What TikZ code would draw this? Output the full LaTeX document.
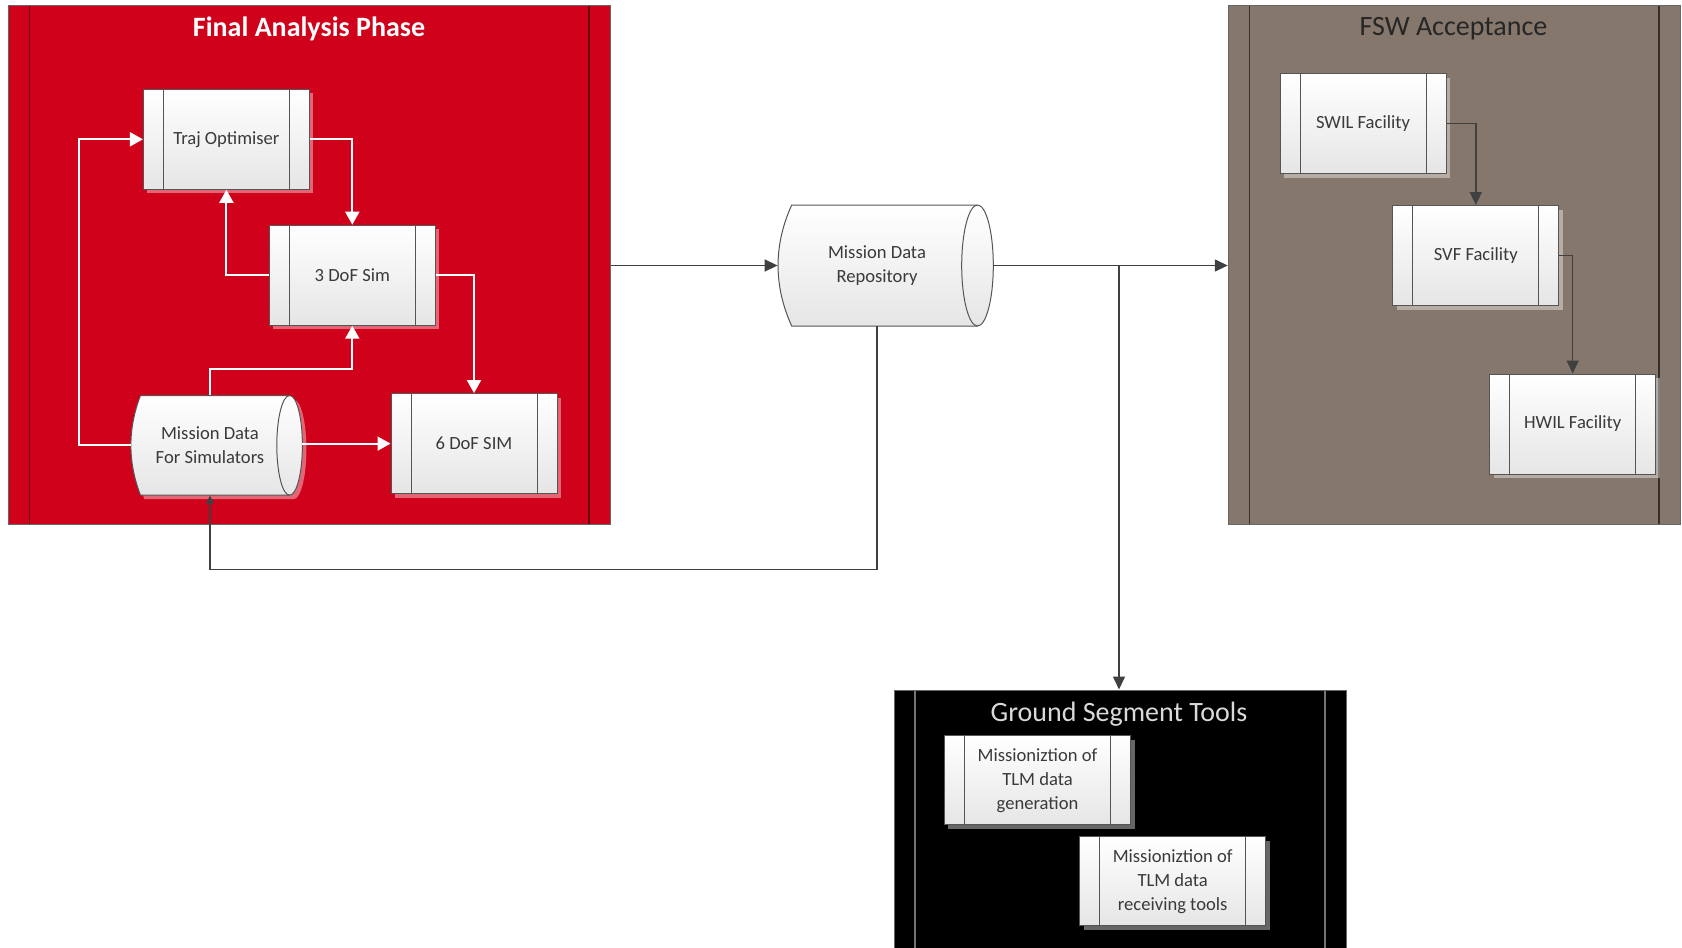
\documentclass[tikz,border=0pt]{standalone}
\usepackage{fontspec}
\setmainfont{Carlito}
\usetikzlibrary{arrows.meta,shadows,calc}

\definecolor{fapred}{RGB}{208,2,27}
\definecolor{fswbrown}{RGB}{133,119,108}
\definecolor{linegray}{RGB}{64,64,64}
\definecolor{boxedge}{RGB}{85,85,85}
\definecolor{boxtext}{RGB}{58,58,58}

\newcommand\boxfont{\fontsize{9.3}{12}\selectfont}
\newcommand\lanefont{\fontsize{14}{17}\selectfont}

\tikzset{
  % swimlane container with two inner rails
  lane/.style 2 args={draw=black!60, line width=.5pt, fill=#1, inner sep=0pt,
    path picture={
      \draw[#2, line width=.7pt]
        ([xshift=10.5pt]path picture bounding box.north west) --
        ([xshift=10.5pt]path picture bounding box.south west);
      \draw[#2, line width=.7pt]
        ([xshift=-10.5pt]path picture bounding box.north east) --
        ([xshift=-10.5pt]path picture bounding box.south east);
    }},
  boxshade/.style={top color=white, bottom color=black!10, shading angle=0},
  softshadow/.style={drop shadow={shadow xshift=2pt, shadow yshift=-2pt,
    fill=white, opacity=.4}},
  % predefined-process box
  proc/.style={draw=boxedge, line width=.5pt, boxshade, softshadow,
    minimum width=83pt, minimum height=50pt, inner sep=0pt,
    font=\boxfont, text=boxtext, align=center,
    path picture={
      \draw[boxedge, line width=.5pt]
        ([xshift=10pt]path picture bounding box.north west) --
        ([xshift=10pt]path picture bounding box.south west);
      \draw[boxedge, line width=.5pt]
        ([xshift=-10pt]path picture bounding box.north east) --
        ([xshift=-10pt]path picture bounding box.south east);
    }},
  gproc/.style={proc, minimum width=93.2pt, minimum height=44.6pt},
  storetext/.style={inner sep=0pt, font=\boxfont, text=boxtext, align=center},
  store/.style={draw=boxedge, line width=.5pt, boxshade},
  wire/.style={draw=linegray, line width=.75pt,
    -{Triangle[length=6.5pt,width=6pt]}},
  wwire/.style={draw=white, line width=1pt,
    -{Triangle[length=6.5pt,width=7pt]}},
}

\begin{document}
\begin{tikzpicture}[x=0.5pt, y=-0.5pt]
  \clip (0,0) rectangle (1682,948);
  \fill[white] (0,0) rectangle (1682,948);

  % ---- containers ----
  \node[lane={fapred}{black!50!fapred}, minimum width=300.7pt, minimum height=259.5pt]
    (fap) at (309.3,265) {};
  \node[lane={fswbrown}{black!60!fswbrown}, minimum width=225.9pt, minimum height=259.5pt]
    (fsw) at (1454.2,265) {};
  \node[lane={black}{black!55}, minimum width=226pt, minimum height=150pt]
    (gst) at (1120,840) {};

  \node[font=\lanefont\bfseries, text=white] (faptitle) at (309,29) {Final Analysis Phase};
  \node[font=\lanefont, text=black!85] (fswtitle) at (1453.5,29) {FSW Acceptance};
  \node[font=\lanefont, text=black!15] (gsttitle) at (1119,714) {Ground Segment Tools};

  % ---- Final Analysis Phase ----
  \node[proc] (traj) at (226.4,139.3) {Traj Optimiser};
  \node[proc] (dof3) at (352.3,275.2) {3 DoF Sim};
  \node[proc] (dof6) at (474,443.6) {6 DoF SIM};

  % stored-data cylinder: mission data for simulators
  \path[store, softshadow] (140.5,395.5) -- (289.6,395.5)
    .. controls (296.7,395.5) and (302.4,417.8) .. (302.4,445.35)
    .. controls (302.4,472.9) and (296.7,495.2) .. (289.6,495.2)
    -- (140.5,495.2)
    .. controls (127.7,462) and (127.7,428.7) .. (140.5,395.5) -- cycle;
  \draw[boxedge, line width=.5pt] (289.6,395.5)
    .. controls (282.5,395.5) and (276.8,417.8) .. (276.8,445.35)
    .. controls (276.8,472.9) and (282.5,495.2) .. (289.6,495.2);
  \node[storetext, minimum width=79.1pt, minimum height=49.85pt] (msim) at (210,445.35)
    {Mission Data\\For Simulators};
  \coordinate (msimout) at (302.4,443.6);

  % ---- Mission data repository ----
  \path[store, softshadow] (791.7,205) -- (977.5,205)
    .. controls (986.2,205) and (993.3,232.1) .. (993.3,265.5)
    .. controls (993.3,298.9) and (986.2,326) .. (977.5,326)
    -- (791.7,326)
    .. controls (773.5,286) and (773.5,245) .. (791.7,205) -- cycle;
  \draw[boxedge, line width=.5pt] (977.5,205)
    .. controls (968.8,205) and (961.7,232.1) .. (961.7,265.5)
    .. controls (961.7,298.9) and (968.8,326) .. (977.5,326);
  \node[storetext, minimum width=99pt, minimum height=60.5pt] (repo) at (877,265.5)
    {Mission Data\\Repository};
  \coordinate (repoout) at (993.3,265.5);
  \coordinate (branch) at (1119,265.5);
  \coordinate (loopcorner) at (877,569.5);

  % ---- FSW Acceptance ----
  \node[proc] (swil) at (1363,123.5) {SWIL Facility};
  \node[proc] (svf) at (1475.8,255.5) {SVF Facility};
  \node[proc] (hwil) at (1572.7,424) {HWIL Facility};

  % ---- Ground Segment Tools ----
  \node[gproc] (tlmgen) at (1037.5,780.3) {Missioniztion of\\TLM data\\generation};
  \node[gproc] (tlmrx) at (1172.7,881.3) {Missioniztion of\\TLM data\\receiving tools};

  % ---- white flows inside the analysis phase ----
  \draw[wwire] (traj.east) -| (dof3.north);
  \draw[wwire] (dof3.west) -| (traj.south);
  \draw[wwire] (dof3.east) -| (dof6.north);
  \draw[wwire] (msim.north) -- ++(0,-25.8) -| (dof3.south);
  \draw[wwire] (msim.west) -- ++(-51.3,0) |- (traj.west);
  \draw[wwire] (msimout) -- (msimout -| dof6.west);

  % ---- dark flows between lanes ----
  \draw[wire] (repo.west -| fap.east) -- (repo.west);
  \draw[wire] (repoout) -- (repoout -| fsw.west);
  \draw[wire] (branch) -- (branch |- gst.north);
  \draw[wire, -{Triangle[length=4pt,width=4pt]}] (repo.south) -- (loopcorner) -| (msim.south);
  \draw[wire] (swil.east) -| (svf.north);
  \draw[wire] (svf.east) -| (hwil.north);
\end{tikzpicture}
\end{document}
